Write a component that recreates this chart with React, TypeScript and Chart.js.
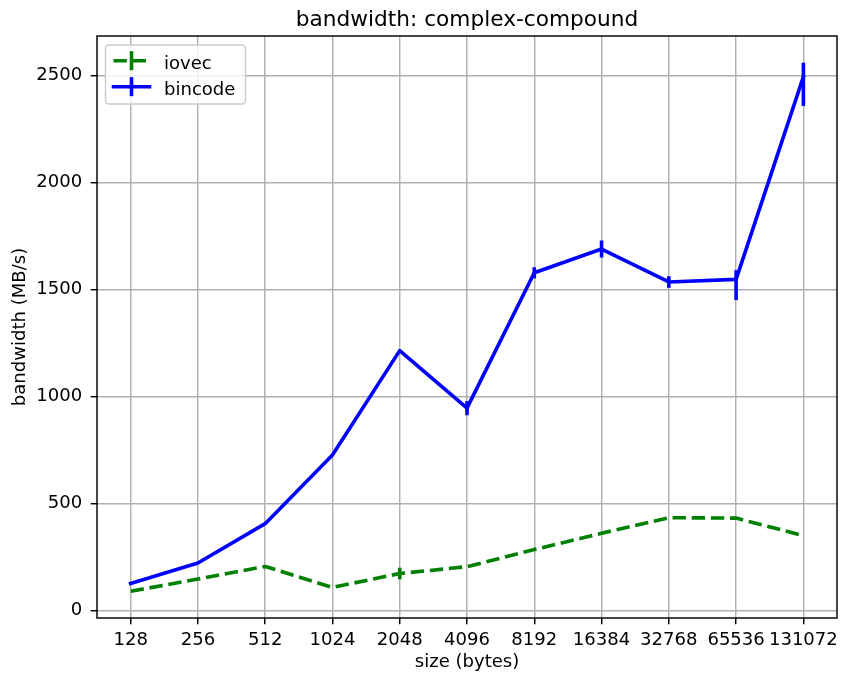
import { useEffect, useRef } from "react";
import { Chart, registerables } from "chart.js";

Chart.register(...registerables);

// Message sizes (bytes) on the x axis
const sizes = ["128", "256", "512", "1024", "2048", "4096", "8192", "16384", "32768", "65536", "131072"];

// iovec throughput (MB/s) with its error range
const iovecBandwidth = [89, 146, 205, 107, 172, 204, 284, 360, 433, 431, 349];
const iovecErrLow = [0, 0, 0, 0, 27, 0, 0, 0, 0, 0, 0];
const iovecErrHigh = [0, 0, 0, 0, 27, 0, 0, 0, 0, 0, 0];

// bincode throughput (MB/s) with its error range
const bincodeBandwidth = [125, 221, 405, 726, 1214, 945, 1578, 1689, 1535, 1547, 2494];
const bincodeErrLow = [0, 0, 0, 0, 0, 33, 26, 40, 27, 97, 136];
const bincodeErrHigh = [0, 0, 0, 0, 0, 33, 26, 40, 27, 43, 66];

const yTickValues = [0, 500, 1000, 1500, 2000, 2500];
const yMin = -36;
const yMax = 2685;

const titleText = "bandwidth: complex-compound";
const xTitle = "size (bytes)";
const yTitle = "bandwidth (MB/s)";

const FONT = "'DejaVu Sans', 'Liberation Sans', sans-serif";
const PT = 130 / 72;
const LINE_W = 2 * PT;
const GRID_W = 0.8 * PT;
const TICK_LEN = 3.5 * PT;
const GREEN = "#008000";
const BLUE = "#0000ff";

const errorRanges = [
  { low: iovecErrLow, high: iovecErrHigh },
  { low: bincodeErrLow, high: bincodeErrHigh },
];

const decorations = {
  id: "decorations",
  afterDatasetsDraw(chart: any) {
    const { ctx, chartArea } = chart;
    const y = chart.scales.y;

    // vertical error bars
    chart.data.datasets.forEach((ds: any, di: number) => {
      const meta = chart.getDatasetMeta(di);
      const err = errorRanges[di];
      ctx.save();
      ctx.strokeStyle = ds.borderColor;
      ctx.lineWidth = LINE_W;
      ctx.lineCap = "butt";
      (ds.data as number[]).forEach((v, i) => {
        const lo = err.low[i];
        const hi = err.high[i];
        if (!lo && !hi) return;
        const px = meta.data[i].x;
        ctx.beginPath();
        ctx.moveTo(px, y.getPixelForValue(v + hi));
        ctx.lineTo(px, y.getPixelForValue(v - lo));
        ctx.stroke();
      });
      ctx.restore();
    });

    // axes frame
    ctx.save();
    ctx.strokeStyle = "#000";
    ctx.lineWidth = GRID_W;
    ctx.strokeRect(chartArea.left, chartArea.top, chartArea.right - chartArea.left, chartArea.bottom - chartArea.top);
    ctx.restore();

    // legend
    const lx = chartArea.left + 8.5;
    const ly = chartArea.top + 9;
    const lw = 140;
    const lh = 59;
    ctx.save();
    ctx.beginPath();
    ctx.roundRect(lx, ly, lw, lh, 3.5);
    ctx.fillStyle = "rgba(255,255,255,0.8)";
    ctx.fill();
    ctx.strokeStyle = "#cccccc";
    ctx.lineWidth = GRID_W;
    ctx.stroke();
    chart.data.datasets.forEach((ds: any, di: number) => {
      const rowY = ly + 15.7 + di * 26;
      const x0 = lx + 8;
      const x1 = x0 + 36;
      ctx.strokeStyle = ds.borderColor;
      ctx.lineWidth = LINE_W;
      ctx.setLineDash(ds.borderDash || []);
      ctx.lineCap = ds.borderCapStyle;
      ctx.beginPath();
      ctx.moveTo(x0, rowY);
      ctx.lineTo(x1, rowY);
      ctx.stroke();
      ctx.setLineDash([]);
      ctx.lineCap = "butt";
      const cx = (x0 + x1) / 2;
      ctx.beginPath();
      ctx.moveTo(cx, rowY - 9.5);
      ctx.lineTo(cx, rowY + 9.5);
      ctx.stroke();
      ctx.fillStyle = "#000";
      ctx.font = `${10 * PT}px ${FONT}`;
      ctx.textAlign = "left";
      ctx.textBaseline = "alphabetic";
      ctx.fillText(ds.label, x1 + 14.5, rowY + 8);
    });
    ctx.restore();

    // title
    ctx.save();
    ctx.fillStyle = "#000";
    ctx.font = `${12 * PT}px ${FONT}`;
    ctx.textAlign = "center";
    ctx.textBaseline = "alphabetic";
    ctx.fillText(titleText, (chartArea.left + chartArea.right) / 2, chartArea.top - 10.3);
    ctx.restore();
  },
};

export default function App() {
  const canvasRef = useRef<HTMLCanvasElement | null>(null);

  useEffect(() => {
    document.body.style.margin = "0";
    const canvas = canvasRef.current;
    if (!canvas) return;

    const chart = new Chart(canvas, {
      type: "line",
      data: {
        labels: sizes,
        datasets: [
          {
            label: "iovec",
            data: iovecBandwidth,
            borderColor: GREEN,
            backgroundColor: GREEN,
            borderWidth: LINE_W,
            borderDash: [3.7 * LINE_W, 1.6 * LINE_W],
            borderCapStyle: "butt",
            borderJoinStyle: "round",
            pointRadius: 0,
            tension: 0,
            fill: false,
            order: 2,
          },
          {
            label: "bincode",
            data: bincodeBandwidth,
            borderColor: BLUE,
            backgroundColor: BLUE,
            borderWidth: LINE_W,
            borderCapStyle: "square",
            borderJoinStyle: "round",
            pointRadius: 0,
            tension: 0,
            fill: false,
            order: 1,
          },
        ],
      },
      options: {
        animation: false,
        responsive: false,
        devicePixelRatio: 1,
        layout: { padding: { top: 36, right: 4, left: 0, bottom: 0 } },
        plugins: {
          legend: { display: false },
          title: { display: false },
          tooltip: { enabled: false },
        },
        scales: {
          x: {
            type: "category",
            offset: true,
            grid: {
              color: "#b0b0b0",
              lineWidth: GRID_W,
              tickColor: "#000",
              tickWidth: GRID_W,
              tickLength: TICK_LEN,
              offset: false,
            },
            border: { display: false },
            ticks: {
              color: "#000",
              font: { family: FONT, size: 10 * PT },
              padding: 5,
              autoSkip: false,
              maxRotation: 0,
              minRotation: 0,
            },
            title: {
              display: true,
              text: xTitle,
              color: "#000",
              font: { family: FONT, size: 10 * PT },
              padding: { top: 0, bottom: 0 },
            },
            afterFit(scale: any) {
              scale.height = 55;
            },
          },
          y: {
            type: "linear",
            min: yMin,
            max: yMax,
            grid: {
              color: "#b0b0b0",
              lineWidth: GRID_W,
              tickColor: "#000",
              tickWidth: GRID_W,
              tickLength: TICK_LEN,
            },
            border: { display: false },
            ticks: {
              color: "#000",
              font: { family: FONT, size: 10 * PT },
              padding: 8.5,
              includeBounds: false,
              callback: (value: any) => String(value),
            },
            afterBuildTicks(scale: any) {
              scale.ticks = yTickValues.map((v) => ({ value: v }));
            },
            title: {
              display: true,
              text: yTitle,
              color: "#000",
              font: { family: FONT, size: 10 * PT },
              padding: { top: 9, bottom: 0 },
            },
            afterFit(scale: any) {
              scale.width = 97;
            },
          },
        },
      },
      plugins: [decorations],
    });

    return () => chart.destroy();
  }, []);

  return <canvas ref={canvasRef} width={843} height={673} style={{ display: "block" }} />;
}
